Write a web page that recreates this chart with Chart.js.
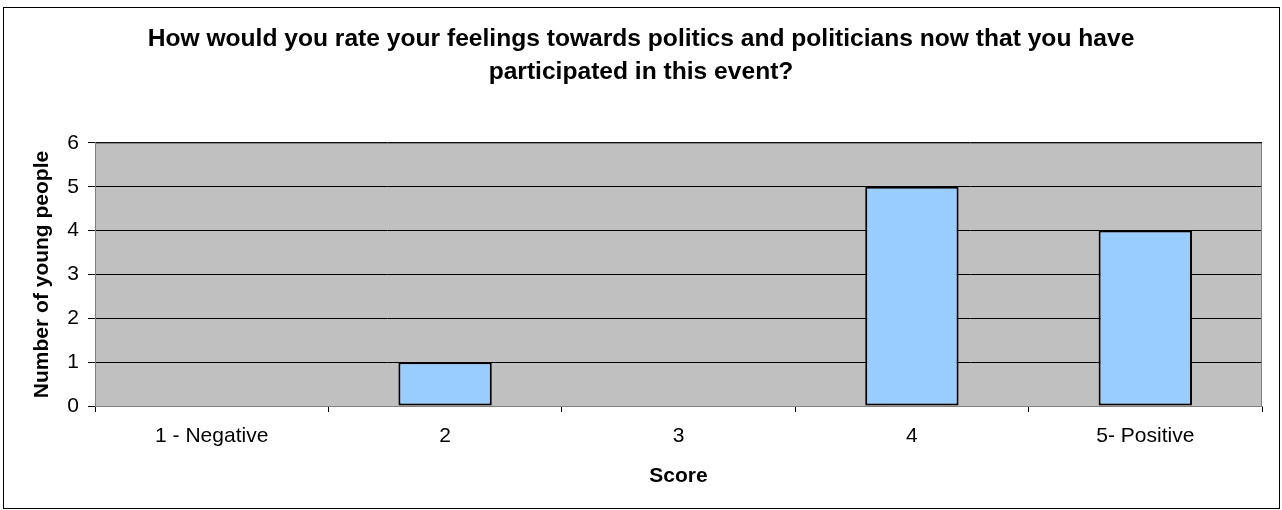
<!DOCTYPE html>
<html>
<head>
<meta charset="utf-8">
<script src="https://cdn.jsdelivr.net/npm/chart.js@4/dist/chart.umd.min.js"></script>
<style>
  html, body { margin: 0; padding: 0; background: #fff; }
  #wrap { width: 1282px; height: 510px; position: relative; }
</style>
</head>
<body>
<div id="wrap"><canvas id="chart" width="1282" height="510"></canvas></div>
<script>
'use strict';

const categories = ['1 - Negative', '2', '3', '4', '5- Positive'];
const youngPeople = [0, 1, 0, 5, 4];
const yTicks = [0, 1, 2, 3, 4, 5, 6];
const titleLines = [
  'How would you rate your feelings towards politics and politicians now that you have',
  'participated in this event?'
];

const FONT = '"Liberation Sans", Arial, sans-serif';

// grey plot background + frame, and the outer chart border
const frame = {
  id: 'frame',
  beforeDraw(chart) {
    const { ctx, chartArea: a } = chart;
    ctx.save();
    ctx.fillStyle = '#c0c0c0';
    ctx.fillRect(a.left, a.top, a.right - a.left, a.bottom - a.top);
    ctx.restore();
  },
  afterDraw(chart) {
    const { ctx, chartArea: a } = chart;
    ctx.save();
    ctx.strokeStyle = '#808080';
    ctx.lineWidth = 1;
    ctx.strokeRect(a.left + 0.5, a.top + 0.5, a.right - a.left - 1, a.bottom - a.top);
    ctx.strokeStyle = '#000';
    ctx.strokeRect(3.5, 7.5, 1276, 501);
    ctx.restore();
  }
};

new Chart(document.getElementById('chart'), {
  type: 'bar',
  data: {
    labels: categories,
    datasets: [{
      data: youngPeople,
      backgroundColor: '#99ccff',
      borderColor: '#000',
      borderWidth: 2,
      borderSkipped: false,
      barPercentage: 0.4,
      categoryPercentage: 1
    }]
  },
  options: {
    responsive: false,
    animation: false,
    layout: { padding: { left: 20, right: 20, top: 0, bottom: 0 } },
    plugins: {
      legend: { display: false },
      tooltip: { enabled: false },
      title: {
        display: true,
        text: titleLines,
        color: '#000',
        font: { family: FONT, size: 24.6, weight: 'bold', lineHeight: 1.34 },
        padding: { top: 23, bottom: 54 }
      }
    },
    scales: {
      x: {
        offset: true,
        grid: { offset: true, drawOnChartArea: false, color: '#000', tickLength: 6 },
        border: { color: '#808080' },
        ticks: { color: '#000', font: { family: FONT, size: 21 }, padding: 12 },
        title: { display: true, text: 'Score', color: '#000', font: { family: FONT, size: 21, weight: 'bold' }, padding: { top: 0, bottom: 21 } },
        afterFit(s) { s.height = 104; }
      },
      y: {
        min: 0,
        max: 6,
        afterBuildTicks(s) { s.ticks = yTicks.map(v => ({ value: v })); },
        grid: { color: '#000', tickLength: 7 },
        border: { color: '#808080' },
        ticks: { color: '#000', font: { family: FONT, size: 21 }, padding: 9 },
        title: { display: true, text: 'Number of young people', color: '#000', font: { family: FONT, size: 21, weight: 'bold' }, padding: { top: 10, bottom: 0 } },
        afterFit(s) { s.width = 75; }
      }
    }
  },
  plugins: [frame]
});
</script>
</body>
</html>
